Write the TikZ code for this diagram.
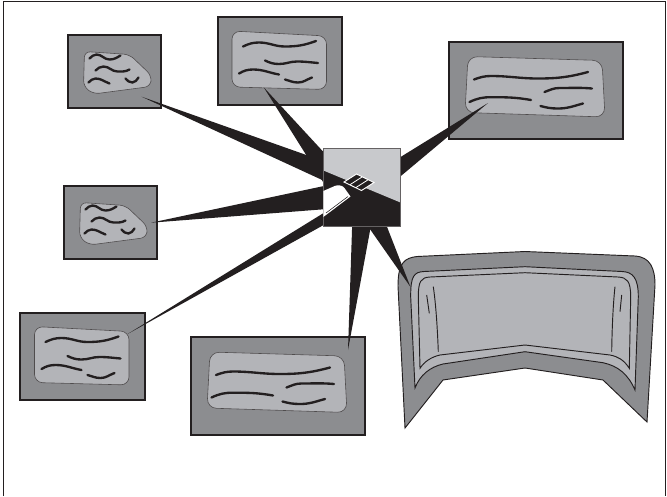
\documentclass[tikz,border=0pt]{standalone}
\usepackage{tikz}
\usetikzlibrary{calc}
\definecolor{slategray}{RGB}{140,141,144}
\definecolor{padgray}{RGB}{179,180,184}
\definecolor{hubgray}{RGB}{200,201,204}
\definecolor{inkblack}{RGB}{35,31,32}
\tikzset{
  frameline/.style={draw=inkblack, line width=0.8pt},
  slatebox/.style={rectangle, draw=inkblack, fill=slategray, line width=0.9pt, inner sep=0pt, outer sep=0pt},
  padline/.style={draw=inkblack!80, fill=padgray, line width=0.5pt},
  squiggle/.style={draw=inkblack, line width=2pt, line cap=round},
  spoke/.style={fill=inkblack},
  hubspot/.style={rectangle, inner sep=0pt, outer sep=0pt, minimum width=2.31cm, minimum height=2.34cm},
  hubedge/.style={draw=inkblack!70, line width=0.6pt},
  tabletline/.style={draw=inkblack, line width=0.8pt},
  % small slanted pad
  slatepad/.pic={
    \draw[padline, rounded corners=5pt] (-30,-20) -- (15,-17) -- (37,4) -- (36,15) -- (-21,22.5) -- (-31,15) -- cycle;
    \draw[squiggle] (-25,-13) to[out=40,in=180] (-18,-17) to[out=0,in=180] (-5,-12) to[out=0,in=210] (6,-16);
    \draw[squiggle] (-19,-1) to[out=40,in=180] (-11,-5) to[out=0,in=180] (3,0) to[out=0,in=210] (15,-2);
    \draw[squiggle] (-26,11) to[out=40,in=180] (-19,7) to[out=0,in=160] (-5,12);
    \draw[squiggle] (11,7) to[out=-50,in=180] (18,11) to[out=0,in=-130] (24,6);
  },
  % medium note pad
  notepad/.pic={
    \draw[padline, rounded corners=7pt] (-48,-30) -- (46.5,-25) -- (46.5,28.5) -- (-48,26) -- cycle;
    \draw[squiggle] (-37,-14.5) to[out=25,in=180] (-21,-18.5) to[out=0,in=180] (5,-14.5) to[out=0,in=200] (36,-20);
    \draw[squiggle] (-15,-0.5) to[out=-25,in=180] (-1,3) to[out=0,in=180] (17,0.5) to[out=0,in=175] (38,2);
    \draw[squiggle] (-41,12.5) to[out=30,in=180] (-27,8.5) to[out=0,in=170] (-1,13.5);
    \draw[squiggle] (5,18.5) to[out=-15,in=180] (18,21.5) to[out=0,in=-160] (32,16.5);
  },
  % wide note pad
  widepad/.pic={
    \draw[padline, rounded corners=8pt] (-68,-34) -- (66,-30) -- (69,26.5) -- (-71,22) -- cycle;
    \draw[squiggle] (-62,-11) to[out=20,in=180] (-45,-14.5) to[out=0,in=180] (2,-12) to[out=0,in=195] (52,-18.5);
    \draw[squiggle] (8.5,1.5) to[out=20,in=180] (23.5,-2.5) to[out=0,in=175] (56,-2);
    \draw[squiggle] (-66.5,11.5) to[out=25,in=180] (-45,6.7) to[out=0,in=170] (-5,9.5);
    \draw[squiggle] (4.5,15.5) to[out=-15,in=180] (22,18) to[out=0,in=-165] (47,13);
  },
}

\begin{document}
\begin{tikzpicture}[x=0.03cm, y=-0.03cm]
  \useasboundingbox (0,0) rectangle (667,496);
  % frame, open at the bottom
  \draw[frameline] (3,496) |- (665.5,1.5) -- (665.5,496);

  % hub spot, painted later
  \node[hubspot] (hub) at (361.5,187.5) {};

  % note boxes
  \node[slatebox, minimum width=2.79cm, minimum height=2.19cm] (slateA) at (114.5,71.5) {};
  \node[slatebox, minimum width=3.72cm, minimum height=2.64cm] (noteB) at (280,61) {};
  \node[slatebox, minimum width=5.22cm, minimum height=2.91cm] (noteC) at (536,90.5) {};
  \node[slatebox, minimum width=2.79cm, minimum height=2.19cm] (slateD) at (110.5,222.5) {};
  \node[slatebox, minimum width=3.75cm, minimum height=2.61cm] (noteE) at (82.5,356.5) {};
  \node[slatebox, minimum width=5.22cm, minimum height=2.94cm] (noteF) at (278,386) {};
  \pic at (slateA.center) {slatepad};
  \pic at (noteB.center) {notepad};
  \pic at (noteC.center) {widepad};
  \pic at (slateD.center) {slatepad};
  \pic at (noteE.center) {notepad};
  \pic at (noteF.center) {widepad};

  % tablet
  \filldraw[fill=slategray, tabletline] (405,428) -- (398,286) .. controls (398,262) and (405,258) .. (417,256.5)
    -- (525,251.5) -- (635,256) .. controls (650,257) and (655,268) .. (655,285)
    -- (647,422) -- (603,380) -- (525,368) -- (443,380) -- cycle;
  \filldraw[fill=padgray, tabletline] (415,388) -- (410.7,297) .. controls (410.5,276) and (414,272) .. (424,271.5)
    -- (525,266.7) -- (622,271.5) .. controls (633,272) and (638.3,278) .. (638.3,297)
    -- (635,390) .. controls (628,374) and (618,366) .. (603,362.7)
    -- (525,351.7) -- (443,364) .. controls (430,367) and (420,375) .. (415,388) -- cycle;
  \draw[tabletline] (420,368.3) -- (418.3,297) .. controls (418.3,281) and (421,277.5) .. (430,277)
    -- (525,272.7) -- (618,277) .. controls (627,277.5) and (630.7,281) .. (630.7,297)
    -- (629.3,368.3) .. controls (624,360) and (618,356.5) .. (610,355)
    -- (525,345) -- (440,355) .. controls (431,357) and (424,362) .. (420,368.3) -- cycle;
  \draw[tabletline] (433.3,286.7) .. controls (436,305) and (437.5,330) .. (438.3,351.7);
  \draw[tabletline] (615,286.7) .. controls (613,305) and (612,330) .. (611.7,351.7);
  \draw[tabletline] (426.7,295) -- (429.3,313.3);
  \draw[tabletline] (621.7,295) -- (620,311.7);

  % spoke tips
  \coordinate (tipA) at (141.6,96.7);
  \coordinate (tipB) at (263.7,87.3);
  \coordinate (tipC) at (488,103);
  \coordinate (tipD) at (151,222.7);
  \coordinate (tipE) at (127.6,334);
  \coordinate (tipF) at (348,350);
  \coordinate (tipG) at (410.5,287);

  % spokes into the hub
  \foreach \t/\ax/\ay/\bx/\by in {tipA/-21.5/-20.6/-21.5/0.7, tipB/-36.5/-2.5/-7.5/-2.5,
      tipC/18.5/-17.8/18.5/6, tipD/-21.5/-4.9/-21.5/20.5, tipE/-21.5/15.4/-21.5/28.4,
      tipF/-9/27.5/11.4/27.5, tipG/-1.4/27.5/20.9/27.5}
    \fill[spoke] (\t) -- ([shift={(\ax,\ay)}]hub.center) -- ([shift={(\bx,\by)}]hub.center) -- cycle;

  % hub square
  \fill[inkblack] (hub.north west) rectangle (hub.south east);
  \fill[hubgray] (hub.north west) -- (hub.north east) -- ($(hub.north east)!0.69!(hub.south east)$)
    -- ($(hub.north west)!0.28!(hub.south west)$) -- cycle;
  \draw[hubedge] (hub.north west) rectangle (hub.south east);

  % pen
  \fill[white] (323.3,191) [rounded corners=2pt] -- (337,185) -- (343,186) [sharp corners] -- (350.5,196.5) -- (323.3,217) -- cycle;
  \draw[inkblack, line width=0.5pt] (326,213) -- (348,196.5);
  \filldraw[fill=inkblack, draw=white, line width=0.8pt] (344,182) -- (356.5,174) -- (374,182.5) -- (361.5,190.5) -- cycle;
  \draw[white, line width=0.7pt] (349.8,184.8) -- (362.3,176.8) (355.7,187.7) -- (368.2,179.7);
\end{tikzpicture}
\end{document}
